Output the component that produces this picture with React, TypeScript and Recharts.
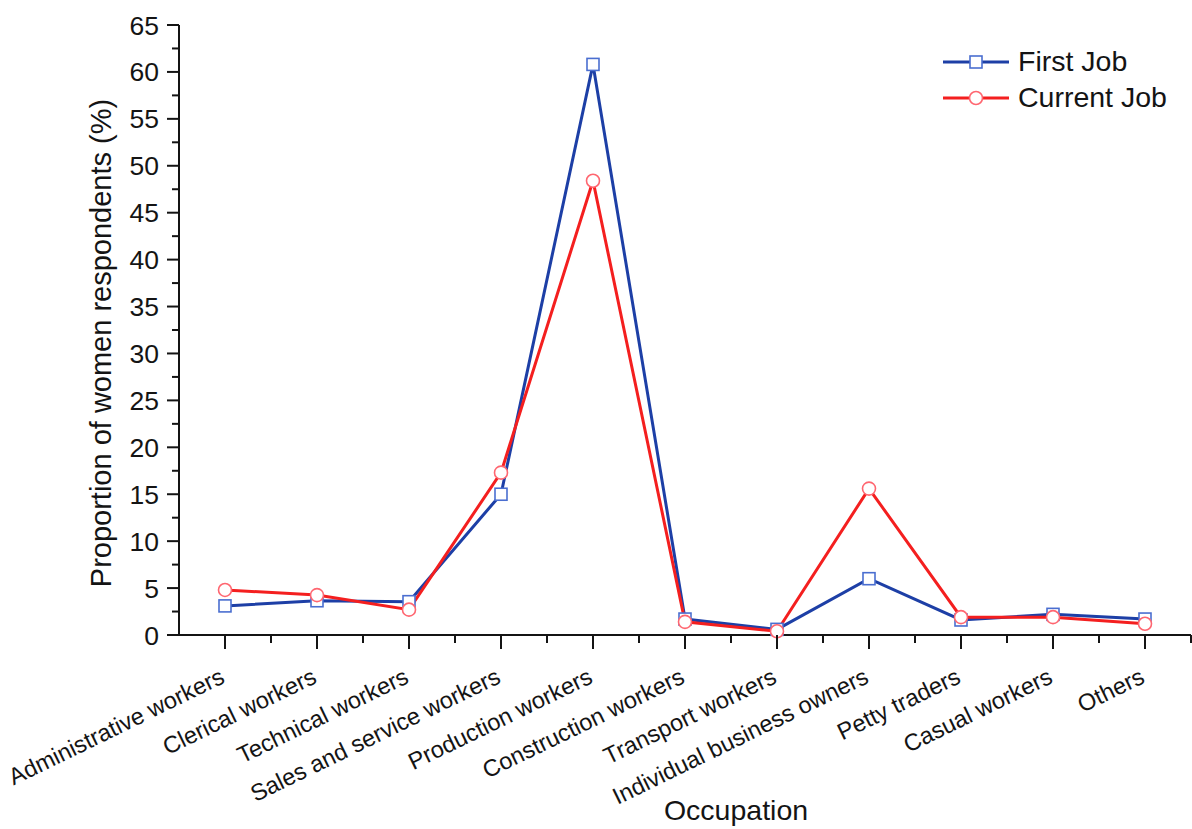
import { LineChart, Line, XAxis, YAxis } from 'recharts';

const categories = [
  'Administrative workers',
  'Clerical workers',
  'Technical workers',
  'Sales and service workers',
  'Production workers',
  'Construction workers',
  'Transport workers',
  'Individual business owners',
  'Petty traders',
  'Casual workers',
  'Others',
];
const firstJob = [3.1, 3.65, 3.55, 15.0, 60.8, 1.7, 0.6, 6.0, 1.6, 2.2, 1.7];
const currentJob = [4.8, 4.25, 2.7, 17.3, 48.4, 1.4, 0.4, 15.6, 1.9, 1.9, 1.2];
const yTicks = [0, 5, 10, 15, 20, 25, 30, 35, 40, 45, 50, 55, 60, 65];
const seriesNames = ['First Job', 'Current Job'];

const FONT = '"Liberation Sans", Arial, sans-serif';
const INK = '#141414';
const BLUE = '#1d3fa6';
const BLUE_MARK = '#4a6ed0';
const RED = '#f41f1f';
const RED_MARK = '#ff6670';

const data = categories.map((name, i) => ({
  idx: i,
  name,
  first: firstJob[i],
  current: currentJob[i],
}));

// major ticks on the values, minor ticks halfway between
const xTicks: number[] = [];
categories.forEach((_, i) => xTicks.push(i, i + 0.5));
const yAllTicks: number[] = [];
yTicks.forEach((t, i) => {
  yAllTicks.push(t);
  if (i < yTicks.length - 1) yAllTicks.push(t + 2.5);
});

const XTick = (props: any) => {
  const { x, y, payload } = props;
  const v = payload.value;
  const major = Number.isInteger(v);
  if (!major) {
    return <line x1={x} x2={x} y1={y} y2={y + 8} stroke={INK} strokeWidth={2} />;
  }
  const ly = y + 47;
  return (
    <g>
      <line x1={x} x2={x} y1={y} y2={y + 14} stroke={INK} strokeWidth={2} />
      <text
        x={x + 1}
        y={ly}
        textAnchor="end"
        fontSize={23.5}
        fontFamily={FONT}
        fill={INK}
        transform={`rotate(-26, ${x + 1}, ${ly})`}
      >
        {categories[v]}
      </text>
    </g>
  );
};

const YTick = (props: any) => {
  const { x, y, payload } = props;
  const v = payload.value;
  const major = v % 5 === 0;
  if (!major) {
    return <line x1={x - 7} x2={x} y1={y} y2={y} stroke={INK} strokeWidth={2} />;
  }
  return (
    <g>
      <line x1={x - 12} x2={x} y1={y} y2={y} stroke={INK} strokeWidth={2} />
      <text x={x - 20} y={y} dy="0.36em" textAnchor="end" fontSize={26.5} fontFamily={FONT} fill={INK}>
        {v}
      </text>
    </g>
  );
};

const SquareDot = (props: any) => {
  const { cx, cy } = props;
  if (cx == null || cy == null) return <g />;
  return <rect x={cx - 6} y={cy - 6} width={12} height={12} fill="#fff" stroke={BLUE_MARK} strokeWidth={1.6} />;
};

const CircleDot = (props: any) => {
  const { cx, cy } = props;
  if (cx == null || cy == null) return <g />;
  return <circle cx={cx} cy={cy} r={6.5} fill="#fff" stroke={RED_MARK} strokeWidth={1.6} />;
};

const LegendBox = () => (
  <svg width={250} height={80} style={{ fontFamily: FONT, position: 'absolute', left: 940, top: 40 }}>
    <line x1={3} x2={69} y1={22} y2={22} stroke={BLUE} strokeWidth={3} />
    <rect x={30} y={16} width={12} height={12} fill="#fff" stroke={BLUE_MARK} strokeWidth={1.6} />
    <text x={78} y={31} fontSize={28.5} fill={INK}>{seriesNames[0]}</text>
    <line x1={3} x2={69} y1={58} y2={58} stroke={RED} strokeWidth={3} />
    <circle cx={36} cy={58} r={6.5} fill="#fff" stroke={RED_MARK} strokeWidth={1.6} />
    <text x={78} y={67} fontSize={28.5} fill={INK}>{seriesNames[1]}</text>
  </svg>
);

export default function App() {
  return (
    <div style={{ position: 'absolute', left: 0, top: 0, width: 1192, height: 829, background: '#fff' }}>
      <LineChart width={1192} height={829} data={data} margin={{ top: 25, right: 1, bottom: 0, left: 0 }}>
        <XAxis
          dataKey="idx"
          type="number"
          domain={[-0.5, 10.5]}
          ticks={xTicks}
          interval={0}
          tickSize={0}
          tickMargin={0}
          tickLine={false}
          tick={<XTick />}
          height={194}
          axisLine={{ stroke: INK, strokeWidth: 2 }}
          label={{
            content: (p: any) => {
              const vb = p.viewBox;
              return (
                <text x={vb.x + vb.width / 2 + 51} y={vb.y + 185} textAnchor="middle" fontSize={28.5} fontFamily={FONT} fill={INK}>
                  Occupation
                </text>
              );
            },
          }}
        />
        <YAxis
          type="number"
          domain={[0, 65]}
          ticks={yAllTicks}
          interval={0}
          width={179}
          tickSize={0}
          tickMargin={0}
          tickLine={false}
          tick={<YTick />}
          axisLine={{ stroke: INK, strokeWidth: 2 }}
          label={{
            content: (p: any) => {
              const vb = p.viewBox;
              const cx = 111;
              const cy = vb.y + vb.height / 2 + 13;
              return (
                <text x={cx} y={cy} textAnchor="middle" fontSize={29} fontFamily={FONT} fill={INK} transform={`rotate(-90, ${cx}, ${cy})`}>
                  Proportion of women respondents (%)
                </text>
              );
            },
          }}
        />
        <Line
          dataKey="first"
          name={seriesNames[0]}
          stroke={BLUE}
          strokeWidth={3}
          dot={<SquareDot />}
          activeDot={false}
          isAnimationActive={false}
        />
        <Line
          dataKey="current"
          name={seriesNames[1]}
          stroke={RED}
          strokeWidth={3}
          dot={<CircleDot />}
          activeDot={false}
          isAnimationActive={false}
        />
      </LineChart>
      <LegendBox />
    </div>
  );
}
